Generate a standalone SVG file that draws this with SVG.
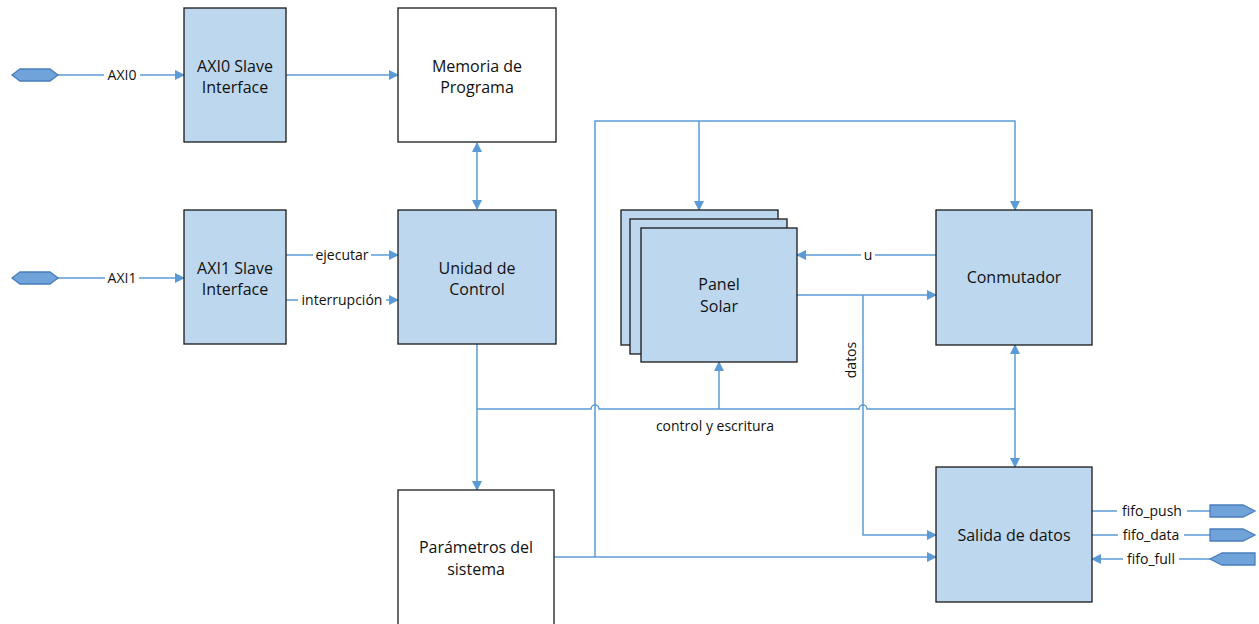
<svg xmlns="http://www.w3.org/2000/svg" width="1259" height="624" viewBox="0 0 1259 624">
<defs>
<marker id="ah" markerWidth="10" markerHeight="10" refX="9" refY="5" orient="auto-start-reverse" markerUnits="userSpaceOnUse">
<path d="M0,0 L10,5 L0,10 Z" fill="#5B9BD5"/>
</marker>
<style>
.blk{fill:#BDD7EE;stroke:#1a1a1a;stroke-width:1.3}
.wht{fill:#ffffff;stroke:#1a1a1a;stroke-width:1.3}
.t{font-family:"Open Sans","Liberation Sans",sans-serif;font-size:16px;fill:#111;text-anchor:middle}
.l{font-family:"Open Sans","Liberation Sans",sans-serif;font-size:14px;fill:#111;text-anchor:middle}
.c{fill:none;stroke:#5B9BD5;stroke-width:1.5}
.bg{fill:#ffffff}
.port{fill:#6FA3DA;stroke:#4A7EBB;stroke-width:1.3}
</style>
</defs>
<rect width="1259" height="624" fill="#ffffff"/>

<g id="connectors">
<path class="c" d="M58,75 H184" marker-end="url(#ah)"/>
<path class="c" d="M58,278 H184" marker-end="url(#ah)"/>
<path class="c" d="M286,75 H398" marker-end="url(#ah)"/>
<path class="c" d="M286,255 H398" marker-end="url(#ah)"/>
<path class="c" d="M286,300 H398" marker-end="url(#ah)"/>
<path class="c" d="M477,143 V209" marker-start="url(#ah)" marker-end="url(#ah)"/>
<path class="c" d="M477,344 V490" marker-end="url(#ah)"/>
<path class="c" d="M477,409 H591 A4,4 0 0 1 599,409 H859 A4,4 0 0 1 867,409 H1015"/>
<path class="c" d="M719,409 V362" marker-end="url(#ah)"/>
<path class="c" d="M1015,409 V345" marker-end="url(#ah)"/>
<path class="c" d="M1015,409 V467" marker-end="url(#ah)"/>
<path class="c" d="M554,557 H936" marker-end="url(#ah)"/>
<path class="c" d="M595,557 V121 H1015 V210" marker-end="url(#ah)"/>
<path class="c" d="M699,121 V210" marker-end="url(#ah)"/>
<path class="c" d="M797,295 H936" marker-end="url(#ah)"/>
<path class="c" d="M863,295 V535 H936" marker-end="url(#ah)"/>
<path class="c" d="M936,255 H797" marker-end="url(#ah)"/>
<path class="c" d="M1092,511 H1210"/>
<path class="c" d="M1092,535 H1210"/>
<path class="c" d="M1210,559 H1092" marker-end="url(#ah)"/>

<rect class="bg" x="104" y="67" width="36" height="16"/>
<text class="l" x="122" y="80">AXI0</text>
<rect class="bg" x="105" y="270" width="34" height="16"/>
<text class="l" x="122" y="283">AXI1</text>
<rect class="bg" x="313" y="247" width="58" height="16"/>
<text class="l" x="342" y="260">ejecutar</text>
<rect class="bg" x="298" y="292" width="88" height="16"/>
<text class="l" x="342" y="305">interrupción</text>
<rect class="bg" x="861" y="247" width="14" height="16"/>
<text class="l" x="868" y="260">u</text>
<text class="l" x="715" y="431">control y escritura</text>
<text class="l" transform="translate(856,360) rotate(-90)">datos</text>
<rect class="bg" x="1117" y="503" width="70" height="16"/>
<text class="l" x="1152" y="516">fifo_push</text>
<rect class="bg" x="1118" y="527" width="66" height="16"/>
<text class="l" x="1151" y="540">fifo_data</text>
<rect class="bg" x="1123" y="551" width="56" height="16"/>
<text class="l" x="1151" y="564">fifo_full</text>
</g>

<g id="port-axi0"><polygon class="port" points="12,75 20,69 50,69 58,75 50,81 20,81"/></g>
<g id="port-axi1"><polygon class="port" points="12,278 20,272 50,272 58,278 50,284 20,284"/></g>
<g id="port-fifo-push"><polygon class="port" points="1210,505 1243,505 1255,511 1243,517 1210,517"/></g>
<g id="port-fifo-data"><polygon class="port" points="1210,529 1243,529 1255,535 1243,541 1210,541"/></g>
<g id="port-fifo-full"><polygon class="port" points="1210,559 1222,553 1255,553 1255,565 1222,565"/></g>

<g id="axi0-slave">
<rect class="blk" x="184" y="8" width="102" height="134"/>
<text class="t" x="235" y="72">AXI0 Slave</text>
<text class="t" x="235" y="93">Interface</text>
</g>
<g id="memoria">
<rect class="wht" x="398" y="8" width="158" height="134"/>
<text class="t" x="477" y="72">Memoria de</text>
<text class="t" x="477" y="93">Programa</text>
</g>
<g id="axi1-slave">
<rect class="blk" x="184" y="210" width="102" height="134"/>
<text class="t" x="235" y="274">AXI1 Slave</text>
<text class="t" x="235" y="295">Interface</text>
</g>
<g id="unidad">
<rect class="blk" x="398" y="210" width="158" height="134"/>
<text class="t" x="477" y="274">Unidad de</text>
<text class="t" x="477" y="295">Control</text>
</g>
<g id="parametros">
<rect class="wht" x="398" y="490" width="156" height="140"/>
<text class="t" x="476" y="553">Parámetros del</text>
<text class="t" x="476" y="575">sistema</text>
</g>
<g id="panel">
<rect class="blk" x="621" y="210" width="157" height="135"/>
<rect class="blk" x="630" y="219" width="157" height="135"/>
<rect class="blk" x="641" y="228" width="156" height="134"/>
<text class="t" x="719" y="290">Panel</text>
<text class="t" x="719" y="312">Solar</text>
</g>
<g id="conmutador">
<rect class="blk" x="936" y="210" width="156" height="135"/>
<text class="t" x="1014" y="283">Conmutador</text>
</g>
<g id="salida">
<rect class="blk" x="936" y="467" width="156" height="135"/>
<text class="t" x="1014" y="541">Salida de datos</text>
</g>
</svg>
